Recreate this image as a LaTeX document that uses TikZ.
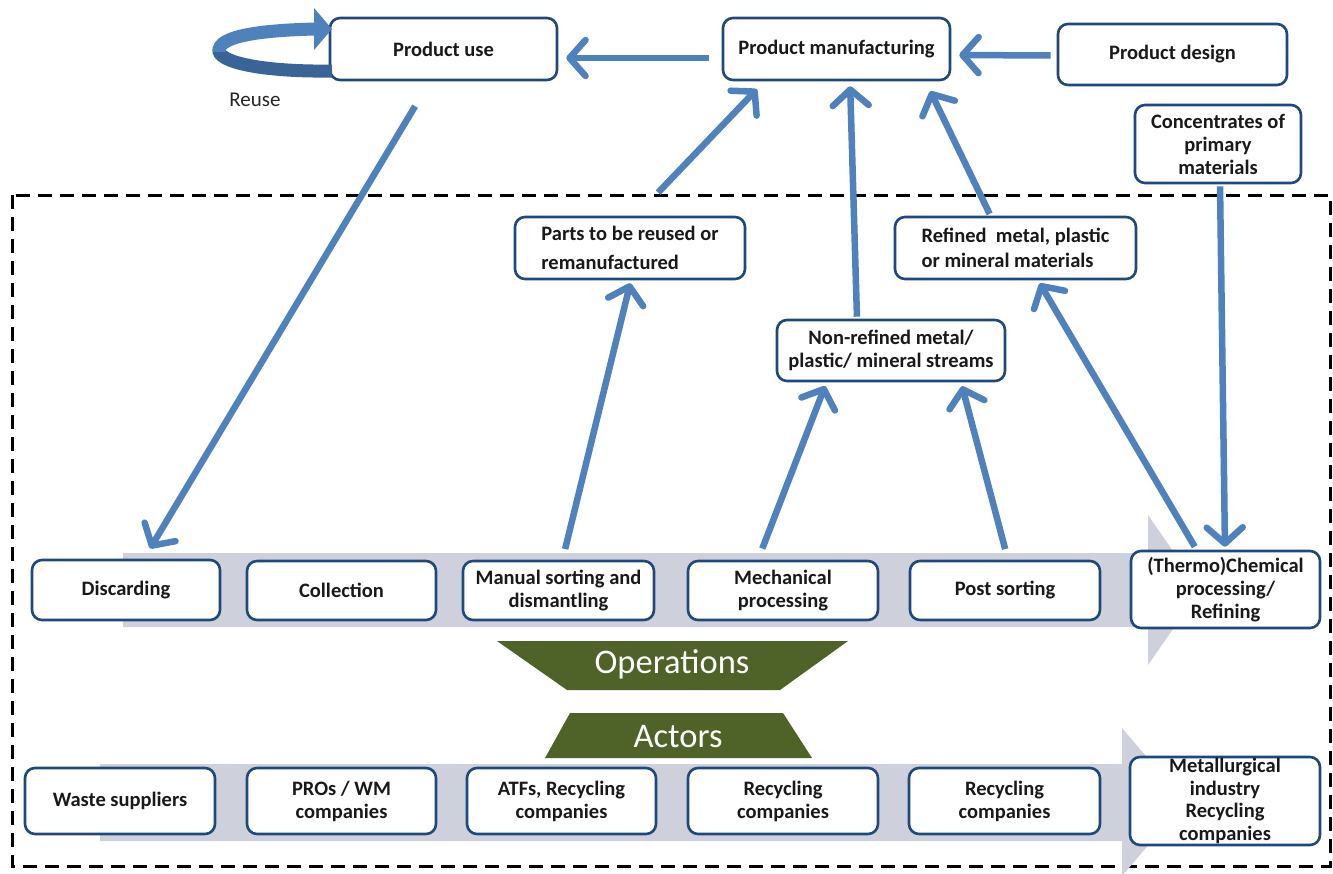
\documentclass[tikz,border=0pt]{standalone}
\usepackage{fontspec}
\setmainfont{Carlito}
\usetikzlibrary{arrows.meta,calc}
\definecolor{arrblue}{RGB}{79,129,189}
\definecolor{boxblue}{RGB}{31,73,125}
\definecolor{bandgray}{RGB}{206,209,219}
\definecolor{olivegreen}{RGB}{79,98,40}
\definecolor{darkarr}{RGB}{58,100,152}
\tikzset{
  box/.style={draw=boxblue, line width=2.6pt, rounded corners=10pt, fill=white, inner sep=2pt,
    font=\bfseries\fontsize{20.5}{23}\selectfont, align=center, text=black!90},
  flow/.style={draw=arrblue, line width=6.5pt, -{Straight Barb[length=16pt,width=36pt,round]}},
  band/.style={fill=bandgray},
  trap/.style={fill=olivegreen},
  traptext/.style={text=white, font=\fontsize{34.5}{38}\selectfont},
}
\begin{document}
\begin{tikzpicture}[x=1pt,y=-1pt]
\useasboundingbox (0,0) rectangle (1333,873);
\fill[white] (0,0) rectangle (1333,873);

% dashed frame
\draw[black, line width=3pt, dash pattern=on 14pt off 8pt] (12,195) rectangle (1330,866);

% gray process arrows
\fill[band] (123,553) -- (1148,553) -- (1148,515) -- (1200,590) -- (1148,665) -- (1148,627) -- (123,627) -- cycle;
\fill[band] (100,764) -- (1122,764) -- (1122,728) -- (1185,802) -- (1122,876) -- (1122,841) -- (100,841) -- cycle;

% trapezoids
\fill[trap] (497,641) -- (848,641) -- (780,690) -- (567,690) -- cycle;
\node[traptext] (ops) at (672,664) {Operations};
\fill[trap] (570,713) -- (783,713) -- (812,758) -- (545,758) -- cycle;
\node[traptext] (act) at (678,737) {Actors};

% top boxes
\node[box, minimum width=227, minimum height=62] (puse) at (443.5,49) {Product use};
\node[box, minimum width=227, minimum height=62] (pman) at (836.5,49) {Product manufacturing};
\node[box, minimum width=229, minimum height=61] (pdes) at (1172.5,54.5) {Product design};
\node[box, minimum width=166, minimum height=78] (conc) at (1218,144) {Concentrates of\\primary\\materials};
\node[box, minimum width=230, minimum height=62, align=left, font=\bfseries\fontsize{20.5}{29}\selectfont] (parts) at (630,248) {Parts to be reused or\\remanufactured};
\node[box, minimum width=241, minimum height=62, align=left, font=\bfseries\fontsize{20.5}{25}\selectfont] (refined) at (1015.5,248) {Refined\ \ metal, plastic\\or mineral materials};
\node[box, minimum width=228, minimum height=61] (nonref) at (891,350.5) {Non-refined metal/\\plastic/ mineral streams};

% operations row
\node[box, minimum width=188, minimum height=60] (disc) at (126,590) {Discarding};
\node[box, minimum width=189, minimum height=59] (coll) at (341.5,590.5) {Collection};
\node[box, minimum width=191, minimum height=59] (manual) at (558.5,590.5) {Manual sorting and\\dismantling};
\node[box, minimum width=190, minimum height=59] (mech) at (783,590.5) {Mechanical\\processing};
\node[box, minimum width=190, minimum height=59] (post) at (1005,590.5) {Post sorting};
\node[box, minimum width=189, minimum height=77] (thermo) at (1225.5,589.5) {(Thermo)Chemical\\processing/\\Refining};

% actors row
\node[box, minimum width=190, minimum height=66] (waste) at (120,801) {Waste suppliers};
\node[box, minimum width=189, minimum height=66] (pros) at (341.5,801) {PROs / WM\\companies};
\node[box, minimum width=189, minimum height=66] (atfs) at (561.5,801) {ATFs, Recycling\\companies};
\node[box, minimum width=190, minimum height=66] (rec1) at (783,801) {Recycling\\companies};
\node[box, minimum width=191, minimum height=66] (rec2) at (1004.5,801) {Recycling\\companies};
\node[box, minimum width=190, minimum height=88, inner sep=0pt, font=\bfseries\fontsize{20.5}{22.7}\selectfont] (metal) at (1225,801) {Metallurgical\\industry\\Recycling\\companies};

% reuse loop
\draw[darkarr, line width=13pt] (332,71) .. controls (262,72) and (216,62) .. (219,49);
\draw[arrblue, line width=13pt] (219,52) .. controls (216,35) and (268,30) .. (316,29);
\fill[arrblue] (314,8) -- (332,29) -- (314,50) -- cycle;
\node[font=\fontsize{21}{24}\selectfont, text=black!85] (reuse) at (255,100) {Reuse};

% blue flow arrows
\draw[flow, shorten <=13pt, shorten >=8pt] ([yshift=-9]pman.west) -- ([yshift=-9]puse.east);
\draw[flow, shorten <=6pt, shorten >=8pt] ([yshift=-1]pdes.west) -- ([yshift=-6]pman.east);
\draw[flow, shorten <=29pt, shorten >=12pt] ([xshift=-13.5]puse.south) -- ([xshift=18]disc.north);
\draw[flow, shorten <=32pt, shorten >=11pt] ([xshift=6]parts.north) -- ([xshift=-72]pman.south);
\draw[flow, shorten <=2pt, shorten >=5pt] ([xshift=-34]nonref.north) -- ([xshift=13.5]pman.south);
\draw[flow, shorten <=2pt, shorten >=11pt] ([xshift=-25]refined.north) -- ([xshift=89]pman.south);
\draw[flow, shorten <=11pt, shorten >=3pt] ([xshift=4]manual.north) -- ([xshift=1]parts.south);
\draw[flow, shorten <=12pt, shorten >=4pt] ([xshift=-25]mech.north) -- ([xshift=-64.5]nonref.south);
\draw[flow, shorten <=11pt, shorten >=4pt] ([xshift=3]post.north) -- ([xshift=70]nonref.south);
\draw[flow, shorten <=3.5pt, shorten >=3.5pt] ([xshift=-29]thermo.north) -- ([xshift=22.5]refined.south);
\draw[flow, shorten <=2pt, shorten >=3pt] ([xshift=2]conc.south) -- ([xshift=-0.5]thermo.north);
\end{tikzpicture}
\end{document}
